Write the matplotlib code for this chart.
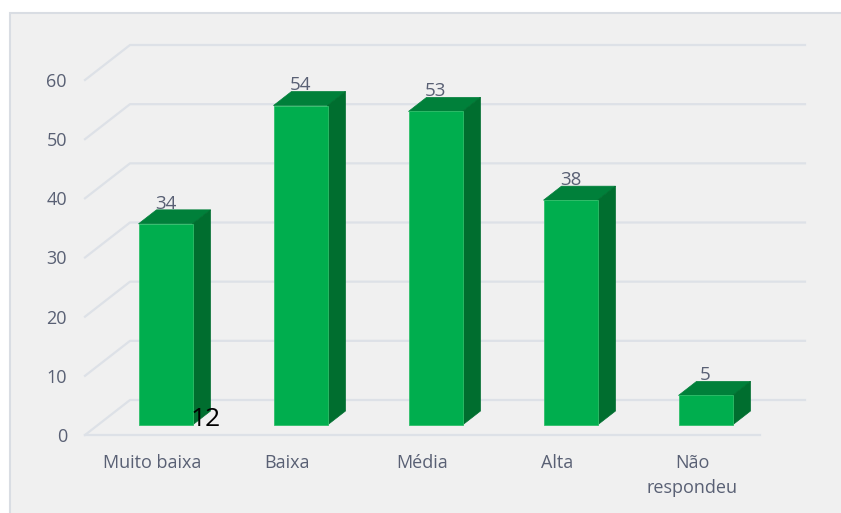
import matplotlib.pyplot as plt
from matplotlib.patches import Polygon, Rectangle
import numpy as np

categories = ["Muito baixa", "Baixa", "Média", "Alta", "Não\nrespondeu"]
values = [34, 54, 53, 38, 5]
yticks = [0, 10, 20, 30, 40, 50, 60]

plt.rcParams['font.family'] = ['Open Sans', 'DejaVu Sans']
txt_color = '#596074'
grid_color = '#dde1e7'
front_c, top_c, side_c = '#00ae4e', '#00803a', '#006e2f'

fig = plt.figure(figsize=(8.41, 5.13), dpi=100)
fig.patch.set_facecolor('white')
# panel runs off the right and bottom edges
fig.patches.append(Rectangle((10 / 841, -0.05), 1.0, 1.05 - 13 / 513,
                             transform=fig.transFigure, facecolor='#f0f0f0',
                             edgecolor='#d9dde3', linewidth=1.5, zorder=-1))

ax = fig.add_axes([85 / 841, 78 / 513, 675 / 841, 355 / 513])
ax.set_facecolor('none')
ax.set_xlim(-0.5, len(categories) - 0.5)
ax.set_ylim(0, 60)
for s in ax.spines.values():
    s.set_visible(False)


def px(dx, dy):
    # pixel offset -> data units
    inv = ax.transData.inverted()
    a = inv.transform((0, 0))
    b = inv.transform((dx, dy))
    return b[0] - a[0], b[1] - a[1]


# wall depth, bar front offset, bar depth
wx, wy = px(45, 35)
fx, fy = px(13, 10)
dx, dy = px(18, 14)
bw = 0.4

# back wall gridlines + left side diagonals
x0, x1 = -0.5, len(categories) - 0.5
for v in yticks:
    ax.plot([x0, x0 + wx, x1 + wx], [v, v + wy, v + wy], color=grid_color,
            lw=1.6, zorder=1, clip_on=False)
ax.plot([x0, x1], [0, 0], color=grid_color, lw=1.6, zorder=1, clip_on=False)

for i, v in enumerate(values):
    l, r = i - bw / 2 + fx, i + bw / 2 + fx
    b, t = fy, v + fy
    ax.add_patch(Polygon([(l, b), (r, b), (r, t), (l, t)], closed=True,
                         facecolor=front_c, edgecolor='#2fbf6a', lw=0.6,
                         zorder=4, clip_on=False))
    ax.add_patch(Polygon([(l, t), (r, t), (r + dx, t + dy), (l + dx, t + dy)],
                         closed=True, facecolor=top_c, edgecolor=top_c, lw=0.5,
                         zorder=3, clip_on=False))
    ax.add_patch(Polygon([(r, b), (r + dx, b + dy), (r + dx, t + dy), (r, t)],
                         closed=True, facecolor=side_c, edgecolor=side_c, lw=0.5,
                         zorder=3, clip_on=False))
    ax.text(i + fx, t + dy + px(0, 1)[1], str(v), ha='center', va='baseline',
            fontsize=13.5, color=txt_color, zorder=5)

ax.set_yticks(yticks)
ax.set_xticks(range(len(categories)))
ax.set_xticklabels(categories, linespacing=1.45)
ax.tick_params(axis='y', length=0, pad=13, labelsize=13, labelcolor=txt_color)
ax.tick_params(axis='x', length=0, pad=14, labelsize=13, labelcolor=txt_color)

fig.text(206 / 841, 1 - 420 / 513, "12", ha='center', va='center',
         fontsize=19, color='black')

fig.savefig('out.png', dpi=100)
